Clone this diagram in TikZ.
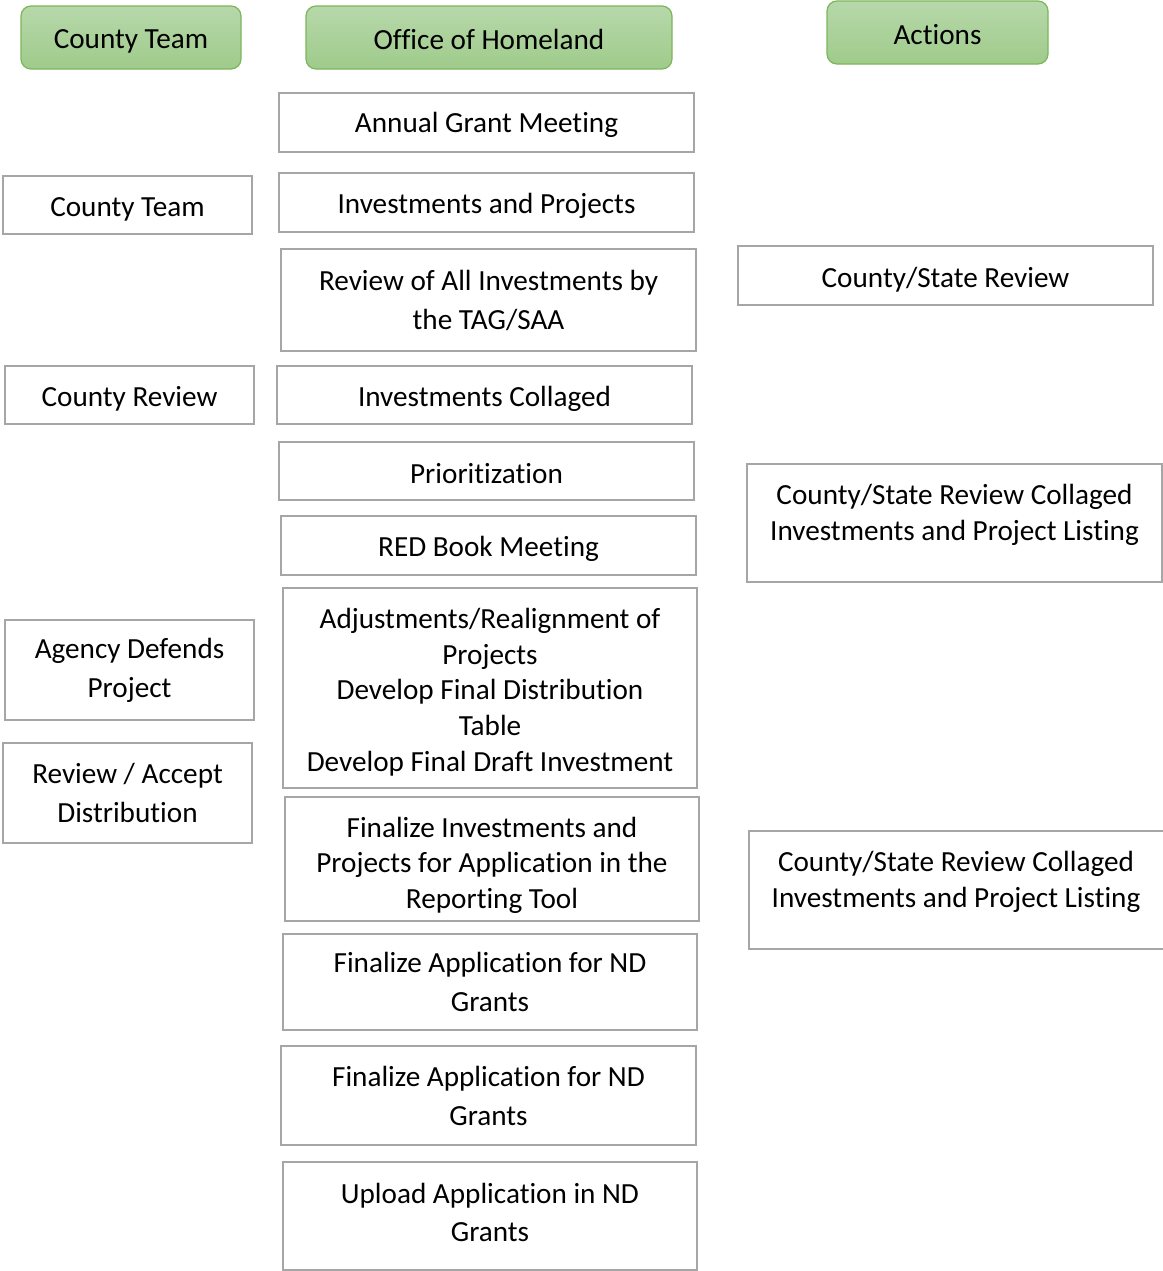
\documentclass[tikz,border=0pt]{standalone}
\usepackage{fontspec}
\setmainfont{Carlito}[Ligatures=CommonOff]
\definecolor{boxgray}{HTML}{A6A6A6}
\definecolor{hdrborder}{HTML}{7CB65A}
\definecolor{hdrtop}{HTML}{B7D8AA}
\definecolor{hdrbot}{HTML}{9FCB8B}
\tikzset{
  hdr/.style={draw=hdrborder, line width=0.9pt, rounded corners=7.5pt,
    top color=hdrtop, bottom color=hdrbot, align=center, inner sep=0pt,
    font=\fontsize{21.9}{27}\selectfont},
  stepbox/.style={draw=boxgray, line width=1.6pt, fill=white, align=center, inner sep=0pt,
    font=\fontsize{21.9}{27}\selectfont},
  wide/.style={font=\fontsize{21.9}{29.25}\selectfont},
  sdn/.style={execute at begin node={\rule{0pt}{#1}}},
  plaintxt/.style={align=center, inner sep=0pt, font=\fontsize{21.9}{27}\selectfont}
}
\begin{document}
\begin{tikzpicture}[x=0.75pt, y=-0.75pt]
\useasboundingbox (0,0) rectangle (1163,1271);
% headers
\node[hdr, sdn=20.5pt, minimum width=165pt, minimum height=47.25pt] (h1) at (131,37.5) {County Team};
\node[hdr, sdn=18pt, minimum width=274.5pt, minimum height=47.25pt] (h2) at (489,37.5) {Office of Homeland};
\node[hdr, sdn=18pt, minimum width=165.75pt, minimum height=47.25pt] (h3) at (937.5,32.5) {Actions};
% left column
\node[stepbox, sdn=20.5pt, minimum width=186.75pt, minimum height=43.5pt] (l1) at (127.5,205) {County Team};
\node[stepbox, sdn=20.5pt, minimum width=186.75pt, minimum height=43.5pt] (l2) at (129.5,395) {County Review};
\node[stepbox, wide, minimum width=186.75pt, minimum height=75pt] (l3) at (129.5,670) {Agency Defends\\Project};
\node[stepbox, wide, minimum width=186.75pt, minimum height=75pt] (l4) at (127.5,793) {Review / Accept\\Distribution};
% middle column
\node[stepbox, sdn=19.5pt, minimum width=311.25pt, minimum height=44.25pt] (m1) at (486.5,122.5) {Annual Grant Meeting};
\node[stepbox, sdn=19.5pt, minimum width=311.25pt, minimum height=44.25pt] (m2) at (486.5,202.5) {Investments and Projects};
\node[stepbox, wide, minimum width=311.25pt, minimum height=76.5pt] (m3) at (488.5,300) {Review of All Investments by\\the TAG/SAA};
\node[stepbox, sdn=20.5pt, minimum width=311.25pt, minimum height=43.5pt] (m4) at (484.5,395) {Investments Collaged};
\node[stepbox, sdn=19.5pt, minimum width=311.25pt, minimum height=43.5pt] (m5) at (486.5,471) {Prioritization};
\node[stepbox, sdn=20.5pt, minimum width=311.25pt, minimum height=44.25pt] (m6) at (488.5,545.5) {RED Book Meeting};
\node[stepbox, minimum width=310.5pt, minimum height=150pt] (m7) at (490,688) {};
\node[plaintxt, font=\fontsize{21.9}{26.8}\selectfont] (m7t) at (490,692) {Adjustments/Realignment of\\Projects\\Develop Final Distribution\\Table\\Develop Final Draft Investment};
\node[stepbox, minimum width=310.5pt, minimum height=93pt] (m8) at (492,859) {};
\node[plaintxt, font=\fontsize{21.9}{26.6}\selectfont] (m8t) at (492,865) {Finalize Investments and\\Projects for Application in the\\Reporting Tool};
\node[stepbox, wide, minimum width=310.5pt, minimum height=72pt] (m9) at (490,982) {Finalize Application for ND\\Grants};
\node[stepbox, wide, minimum width=311.25pt, minimum height=74.25pt] (m10) at (488.5,1095.5) {Finalize Application for ND\\Grants};
\node[stepbox, minimum width=310.5pt, minimum height=81pt] (m11) at (490,1216) {};
\node[plaintxt, font=\fontsize{21.9}{28.5}\selectfont] (m11t) at (490,1212) {Upload Application in ND\\Grants};
% right column
\node[stepbox, sdn=22pt, minimum width=311.25pt, minimum height=44.25pt] (r1) at (945.5,275.5) {County/State Review};
\node[stepbox, minimum width=311.25pt, minimum height=88.5pt] (r2) at (954.5,523) {};
\node[plaintxt] (r2t) at (954.5,514.5) {County/State Review Collaged\\Investments and Project Listing};
\node[stepbox, minimum width=312.75pt, minimum height=88.5pt] (r3) at (957.5,890) {};
\node[plaintxt] (r3t) at (956,881.5) {County/State Review Collaged\\Investments and Project Listing};
\end{tikzpicture}
\end{document}
